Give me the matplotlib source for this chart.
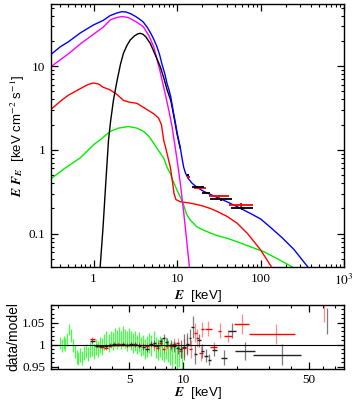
import numpy as np
import matplotlib
matplotlib.use("Agg")
import matplotlib.pyplot as plt
from matplotlib.ticker import NullFormatter

plt.rcParams['font.family'] = ['Liberation Serif', 'DejaVu Serif']
plt.rcParams['mathtext.fontset'] = 'stix'

# --- model curves (E in keV, E F_E) ---
E_blue = [0.316, 0.4, 0.5, 0.7, 1.0, 1.3, 1.58, 1.9, 2.19, 2.45, 2.8, 3.2, 3.6, 3.94, 4.4, 4.8, 5.25, 5.75,
          6.2, 6.6, 7.1, 7.58, 8.0, 8.4, 8.75, 9.1, 9.55, 10.0, 10.45, 10.94, 11.5, 12.0, 12.6, 13.5, 15.1,
          17.5, 20.8, 28, 38, 52.5, 75, 100, 130, 180, 250, 368]
F_blue = [14, 17, 19.5, 25, 31, 35, 40, 43, 44.6, 44.2, 42, 39, 36, 33.5, 29, 25, 21, 17,
          13.5, 10.5, 8.2, 6.2, 5.2, 4.3, 3.4, 2.7, 2.1, 1.6, 1.3, 1.05, 0.78, 0.62, 0.53, 0.46, 0.40,
          0.355, 0.32, 0.28, 0.245, 0.21, 0.175, 0.15, 0.12, 0.09, 0.065, 0.04]

E_mag = [0.316, 0.5, 0.7, 1.0, 1.3, 1.58, 1.9, 2.19, 2.6, 3.2, 3.94, 4.6, 5.25, 6.2, 7.2, 8.0, 8.7, 9.4,
         10.0, 11.0, 12.0, 13.0, 14.05]
F_mag = [10, 14, 18.5, 24, 29, 35.5, 38, 39, 38, 34, 29.5, 23, 17, 9, 4.7, 2.9, 1.9, 1.15,
         0.76, 0.38, 0.18, 0.085, 0.04]

E_blk = [1.2, 1.3, 1.4, 1.51, 1.6, 1.73, 1.9, 2.1, 2.28, 2.5, 2.75, 3.1, 3.4, 3.62, 3.9, 4.2, 4.77, 5.5,
         6.3, 7.0, 7.6, 8.4, 9.1, 10.0, 10.9]
F_blk = [0.04, 0.12, 0.4, 1.3, 2.2, 3.9, 6.5, 10.5, 14.2, 17.5, 20.5, 23, 24.3, 24.6, 24, 22.5, 18.7, 13.5,
         9.8, 7.0, 5.2, 3.9, 2.6, 1.55, 1.05]

E_red = [0.316, 0.4, 0.5, 0.7, 0.85, 1.0, 1.15, 1.3, 1.58, 1.9, 2.28, 2.7, 3.3, 4.2, 5.25, 6.0, 6.5, 6.9,
         7.6, 8.3, 8.8, 9.2, 9.7, 11, 13, 15, 20, 25, 30, 40, 52.5, 70, 100, 135]
F_red = [3.1, 3.8, 4.5, 5.4, 6.0, 6.3, 6.1, 5.6, 5.2, 4.6, 3.9, 3.7, 3.6, 3.1, 2.7, 2.4, 2.0, 1.32,
         0.9, 0.62, 0.42, 0.3, 0.255, 0.24, 0.235, 0.23, 0.215, 0.2, 0.185, 0.16, 0.133, 0.1, 0.064, 0.04]

E_grn = [0.316, 0.45, 0.69, 1.0, 1.2, 1.58, 2.0, 2.62, 3.3, 3.97, 4.6, 5.25, 6.0, 6.9, 7.6, 8.3, 9.0, 10,
         11, 12, 13, 14.4, 17.4, 20.8, 30, 40, 52.5, 75, 109, 160, 240]
F_grn = [0.46, 0.6, 0.8, 1.15, 1.32, 1.66, 1.82, 1.9, 1.82, 1.66, 1.45, 1.2, 0.98, 0.8, 0.62, 0.52, 0.42, 0.33,
         0.27, 0.22, 0.17, 0.145, 0.12, 0.11, 0.095, 0.088, 0.08, 0.07, 0.061, 0.05, 0.04]

# --- unfolded data points in the top panel ---
red_top_lo = [13.3, 15.8, 24, 41.5]
red_top_hi = [14.4, 22, 41.5, 80]
red_top_F = [0.48, 0.35, 0.28, 0.218]
red_top_err = [0.012, 0.01, 0.01, 0.012]
blk_top_lo = [13.0, 15.1, 20, 24.6, 44]
blk_top_hi = [14.0, 20.8, 25, 45.5, 81]
blk_top_F = [0.5, 0.365, 0.31, 0.256, 0.2]
blk_top_err = [0.01, 0.008, 0.008, 0.008, 0.01]

# --- ratio panel: green instrument ---
E_g = [2.05, 2.1, 2.15, 2.2, 2.25, 2.3, 2.36, 2.42, 2.48, 2.54, 2.6, 2.67, 2.74, 2.81, 2.88, 2.95, 3.03, 3.11,
       3.19, 3.27, 3.36, 3.45, 3.54, 3.63, 3.73, 3.83, 3.93, 4.03, 4.14, 4.25, 4.36, 4.48, 4.6, 4.72, 4.85,
       4.98, 5.11, 5.25, 5.39, 5.53, 5.68, 5.83, 5.99, 6.15, 6.31, 6.48, 6.65, 6.83, 7.01, 7.2, 7.4, 7.6,
       7.8, 8.0, 8.2, 8.45, 8.7, 8.95, 9.2, 9.5, 9.8]
R_g = [1.003, 0.998, 1.005, 1.0, 1.012, 1.034, 1.02, 0.998, 0.985, 0.972, 0.968, 0.976, 0.97, 0.98, 0.985,
       0.978, 0.988, 0.992, 0.985, 0.995, 0.99, 1.0, 0.996, 1.006, 1.01, 1.004, 1.012, 1.008, 1.016, 1.012,
       1.018, 1.01, 1.02, 1.014, 1.008, 1.016, 1.01, 1.004, 1.008, 1.0, 1.006, 0.996, 1.0, 0.99, 0.996,
       1.004, 0.998, 1.008, 0.994, 0.988, 0.996, 0.99, 0.984, 0.992, 0.985, 0.978, 0.972, 0.98, 0.97,
       0.976, 0.968]
dR_g = [0.014, 0.014, 0.014, 0.015, 0.015, 0.013, 0.015, 0.015, 0.015, 0.015, 0.015, 0.016, 0.016, 0.016,
        0.016, 0.016, 0.017, 0.017, 0.017, 0.018, 0.018, 0.018, 0.019, 0.019, 0.02, 0.02, 0.02, 0.02, 0.021,
        0.021, 0.021, 0.021, 0.022, 0.022, 0.022, 0.022, 0.022, 0.022, 0.022, 0.022, 0.022, 0.022, 0.023,
        0.023, 0.023, 0.023, 0.023, 0.023, 0.024, 0.024, 0.024, 0.024, 0.024, 0.025, 0.025, 0.025, 0.025,
        0.025, 0.026, 0.026, 0.026]

# --- ratio panel: black instrument ---
E_k = [3.1, 3.3, 3.5, 3.7, 3.9, 4.1, 4.35, 4.6, 4.85, 5.1, 5.4, 5.7, 6.0, 6.3, 6.6, 6.9, 7.2, 7.5, 7.8, 8.1,
       8.5, 8.9, 9.3, 9.7, 10.1, 10.5, 10.9, 11.3, 11.7, 12.2, 12.8, 13.4, 14.0, 14.9, 16.9, 18.6, 22.2, 35.4, 63.5]
R_k = [1.008, 0.998, 0.996, 0.997, 1.0, 1.001, 1.0, 1.002, 0.999, 1.001, 1.0, 0.998, 0.994, 0.99, 1.002,
       1.004, 0.998, 1.008, 1.016, 1.006, 1.0, 0.996, 0.993, 0.99, 0.995, 1.002, 1.016, 1.04, 0.978, 1.01,
       0.986, 0.975, 0.966, 0.987, 0.97, 1.032, 0.985, 0.977, 1.054]
dR_k = [0.004, 0.004, 0.004, 0.004, 0.004, 0.004, 0.004, 0.004, 0.005, 0.005, 0.005, 0.005, 0.006, 0.006,
        0.006, 0.007, 0.007, 0.008, 0.008, 0.009, 0.01, 0.012, 0.014, 0.02, 0.03, 0.025, 0.02, 0.024, 0.022,
        0.015, 0.016, 0.015, 0.013, 0.013, 0.017, 0.017, 0.02, 0.024, 0.03]
xlo_k = [0.1, 0.1, 0.1, 0.1, 0.1, 0.1, 0.12, 0.12, 0.12, 0.14, 0.14, 0.14, 0.15, 0.15, 0.15, 0.15, 0.15, 0.15,
         0.15, 0.15, 0.15, 0.2, 0.2, 0.2, 0.2, 0.2, 0.2, 0.2, 0.2, 0.3, 0.3, 0.3, 0.3, 0.5, 0.6, 0.9, 2.7, 10.8, 0]
xhi_k = [0.1, 0.1, 0.1, 0.1, 0.1, 0.1, 0.12, 0.12, 0.12, 0.14, 0.14, 0.14, 0.15, 0.15, 0.15, 0.15, 0.15, 0.15,
         0.15, 0.15, 0.15, 0.2, 0.2, 0.2, 0.2, 0.2, 0.2, 0.2, 0.2, 0.3, 0.3, 0.3, 0.3, 0.6, 0.6, 1.2, 2.8, 10.1, 0]

# --- ratio panel: red instrument ---
E_r = [3.1, 3.3, 3.5, 3.7, 3.9, 4.1, 4.35, 4.6, 4.85, 5.1, 5.4, 5.7, 6.0, 6.3, 6.6, 6.9, 7.2, 7.5, 7.8, 8.1,
       8.5, 8.9, 9.3, 9.7, 10.1, 10.5, 11.0, 11.7, 12.0, 12.6, 12.8, 13.8, 14.8, 16.0, 17.8, 21.3, 32.8, 60.6]
R_r = [1.013, 0.996, 0.994, 0.992, 0.998, 1.0, 1.001, 1.0, 0.999, 1.0, 1.001, 0.999, 1.0, 0.998, 1.0, 0.996,
       0.992, 1.003, 0.99, 0.998, 0.996, 1.002, 1.004, 0.985, 0.992, 1.0, 0.99, 1.027, 1.015, 0.98, 1.035,
       1.036, 0.995, 1.032, 1.02, 1.047, 1.025, 1.07]
dR_r = [0.004, 0.004, 0.004, 0.004, 0.004, 0.004, 0.004, 0.004, 0.005, 0.005, 0.005, 0.005, 0.006, 0.006,
        0.006, 0.007, 0.007, 0.008, 0.008, 0.009, 0.01, 0.012, 0.012, 0.015, 0.02, 0.02, 0.02, 0.022, 0.02,
        0.018, 0.017, 0.017, 0.01, 0.017, 0.013, 0.023, 0.023, 0.019]
xlo_r = [0.1, 0.1, 0.1, 0.1, 0.1, 0.1, 0.12, 0.12, 0.12, 0.14, 0.14, 0.14, 0.15, 0.15, 0.15, 0.15, 0.15, 0.15,
         0.15, 0.15, 0.15, 0.2, 0.2, 0.2, 0.2, 0.2, 0.2, 0.2, 0.2, 0.3, 0.3, 0.6, 0.7, 0.3, 0.9, 2.1, 9.5, 0]
xhi_r = [0.1, 0.1, 0.1, 0.1, 0.1, 0.1, 0.12, 0.12, 0.12, 0.14, 0.14, 0.14, 0.15, 0.15, 0.15, 0.15, 0.15, 0.15,
         0.15, 0.15, 0.15, 0.2, 0.2, 0.2, 0.2, 0.2, 0.2, 0.2, 0.2, 0.3, 0.3, 0.6, 0.7, 0.3, 1.0, 1.9, 9.1, 0]

fig = plt.figure(figsize=(3.57, 4.04), dpi=100)
ax1 = fig.add_axes([0.143, 0.339, 0.821, 0.651])
ax2 = fig.add_axes([0.143, 0.087, 0.821, 0.158])

# Top panel: spectral components
ax1.plot(E_grn, F_grn, color='#00ee00', lw=1.0)
ax1.plot(E_red, F_red, color='#ff0000', lw=1.0)
ax1.plot(E_mag, F_mag, color='#ff00ff', lw=1.0)
ax1.plot(E_blk, F_blk, color='black', lw=1.0)
ax1.plot(E_blue, F_blue, color='#0000ff', lw=1.0)

red_x = np.sqrt(np.array(red_top_lo) * np.array(red_top_hi))
blk_x = np.sqrt(np.array(blk_top_lo) * np.array(blk_top_hi))
ax1.errorbar(red_x, red_top_F, yerr=red_top_err,
             xerr=[red_x - np.array(red_top_lo), np.array(red_top_hi) - red_x],
             fmt='none', ecolor='#ff0000', elinewidth=1.3, capsize=0)
ax1.errorbar(blk_x, blk_top_F, yerr=blk_top_err,
             xerr=[blk_x - np.array(blk_top_lo), np.array(blk_top_hi) - blk_x],
             fmt='none', ecolor='black', elinewidth=1.3, capsize=0)

ax1.set_xscale('log')
ax1.set_yscale('log')
ax1.set_xlim(0.31, 1000)
ax1.set_ylim(0.04, 55)
ax1.set_xticks([1, 10, 100, 1000])
ax1.set_xticklabels(['1', '10', '100', '$10^3$'])
ax1.set_yticks([0.1, 1, 10])
ax1.set_yticklabels(['0.1', '1', '10'])
ax1.xaxis.set_minor_formatter(NullFormatter())
ax1.yaxis.set_minor_formatter(NullFormatter())
ax1.set_xlabel(r'$\mathbfit{E}$  [keV]', fontsize=9.5, family='Liberation Sans', labelpad=0)
ax1.set_ylabel(r'$\mathbfit{E\ F_E}$  [keV cm$^{-2}$ s$^{-1}$]', fontsize=9.5,
               family='Liberation Sans', labelpad=1)

# Bottom panel: data/model ratios
ax2.errorbar(E_g, R_g, yerr=dR_g, fmt='none', ecolor='#22ff22', elinewidth=0.9, alpha=0.85, capsize=0)
ax2.errorbar(E_r, R_r, yerr=dR_r, fmt='none', ecolor='#ff3030', elinewidth=0.9, alpha=0.55, capsize=0)
ax2.errorbar(E_r, R_r, xerr=[xlo_r, xhi_r], fmt='none', ecolor='#ff0000', elinewidth=1.0, capsize=0)
ax2.errorbar(E_k, R_k, yerr=dR_k, fmt='none', ecolor='#444444', elinewidth=0.9, alpha=0.7, capsize=0)
ax2.errorbar(E_k, R_k, xerr=[xlo_k, xhi_k], fmt='none', ecolor='#222222', elinewidth=1.0, capsize=0)
ax2.axhline(1.0, color='black', lw=0.8, zorder=5)

ax2.set_xscale('log')
ax2.set_xlim(1.83, 79)
ax2.set_ylim(0.945, 1.087)
ax2.set_xticks([5, 10, 50])
ax2.set_xticklabels(['5', '10', '50'])
ax2.set_xticks([2, 3, 4, 6, 7, 8, 9, 20, 30, 40, 60, 70], minor=True)
ax2.xaxis.set_minor_formatter(NullFormatter())
ax2.set_yticks([0.95, 1.0, 1.05])
ax2.set_yticklabels(['0.95', '1', '1.05'])
ax2.set_yticks(np.arange(0.95, 1.09, 0.01), minor=True)
ax2.set_xlabel(r'$\mathbfit{E}$  [keV]', fontsize=9.5, family='Liberation Sans', labelpad=-1)
ax2.set_ylabel('data/model', fontsize=10, family='Liberation Sans', labelpad=1)

for ax in (ax1, ax2):
    ax.tick_params(which='both', direction='in', top=True, right=True, labelsize=9.5, pad=4)
    ax.tick_params(which='major', length=5, width=0.9)
    ax.tick_params(which='minor', length=2.5, width=0.8)
    for s in ax.spines.values():
        s.set_linewidth(1.0)

fig.savefig('out.png', dpi=100)
